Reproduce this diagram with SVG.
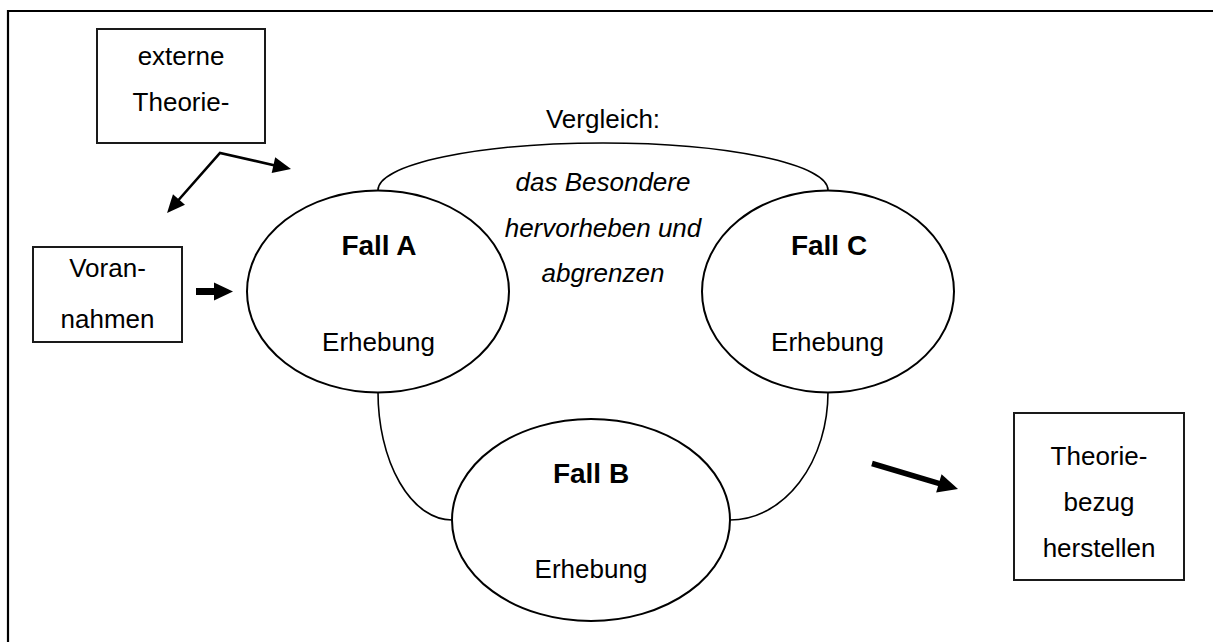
<svg xmlns="http://www.w3.org/2000/svg" width="1213" height="642" viewBox="0 0 1213 642">
<style>
  text { font-family: "Liberation Sans", Arial, sans-serif; font-size: 26px; fill: #000; text-anchor: middle; }
  .b { font-weight: bold; font-size: 28px; }
  .i { font-style: italic; }
  .box { fill: #fff; stroke: #1a1a1a; stroke-width: 2; }
  .ell { fill: #fff; stroke: #000; stroke-width: 2; }
  .link { fill: none; stroke: #000; stroke-width: 1.6; }
  .thin { fill: none; stroke: #000; stroke-width: 2.6; }
  marker { overflow: visible; }
</style>
<defs>
  <marker id="ahThin" markerUnits="userSpaceOnUse" markerWidth="18" markerHeight="16" refX="6" refY="8" orient="auto-start-reverse">
    <path d="M0,0 L18,8 L0,16 z" fill="#000"/>
  </marker>
  <marker id="ahThick" markerUnits="userSpaceOnUse" markerWidth="19" markerHeight="18" refX="6" refY="9" orient="auto">
    <path d="M0,0 L19,9 L0,18 z" fill="#000"/>
  </marker>
  <marker id="ahThick2" markerUnits="userSpaceOnUse" markerWidth="20" markerHeight="19" refX="6" refY="9.5" orient="auto">
    <path d="M0,0 L20,9.5 L0,19 z" fill="#000"/>
  </marker>
</defs>
<rect width="1213" height="642" fill="#fff"/>
<path d="M8,642 L8,11 L1213,11" fill="none" stroke="#000" stroke-width="2.2"/>

<g id="connectors">
  <path class="link" d="M378,190 A225,47 0 0 1 828,190"/>
  <path class="link" d="M378,392 A74,128 0 0 0 452,520"/>
  <path class="link" d="M828,392 A98,128 0 0 1 730,520"/>
  <path class="thin" d="M175,204 L220,153 L279.3,166.4" marker-start="url(#ahThin)" marker-end="url(#ahThin)"/>
  <path d="M196,291.5 L220,291.5" stroke="#000" stroke-width="7" fill="none" marker-end="url(#ahThick)"/>
  <path d="M872,463.5 L944.6,485.1" stroke="#000" stroke-width="5.5" fill="none" marker-end="url(#ahThick2)"/>
</g>

<g id="externe">
  <rect class="box" x="97" y="29" width="168" height="114"/>
  <text x="181" y="65">externe</text>
  <text x="181" y="111">Theorie-</text>
</g>

<g id="voran">
  <rect class="box" x="33" y="247" width="149" height="95"/>
  <text x="107.5" y="277">Voran-</text>
  <text x="107.5" y="328">nahmen</text>
</g>

<g id="fallA">
  <ellipse class="ell" cx="378" cy="291.5" rx="131" ry="101"/>
  <text class="b" x="379" y="255">Fall A</text>
  <text x="378.5" y="351">Erhebung</text>
</g>

<g id="fallC">
  <ellipse class="ell" cx="828" cy="291.5" rx="126" ry="101"/>
  <text class="b" x="829" y="255">Fall C</text>
  <text x="827.5" y="351">Erhebung</text>
</g>

<g id="fallB">
  <ellipse class="ell" cx="591" cy="520" rx="139" ry="101"/>
  <text class="b" x="591" y="483">Fall B</text>
  <text x="591" y="578">Erhebung</text>
</g>

<g id="vergleich">
  <text x="603" y="128">Vergleich:</text>
  <text class="i" x="603" y="191">das Besondere</text>
  <text class="i" x="603" y="237">hervorheben und</text>
  <text class="i" x="603" y="282">abgrenzen</text>
</g>

<g id="theoriebezug">
  <rect class="box" x="1014" y="413" width="170" height="167"/>
  <text x="1099" y="465">Theorie-</text>
  <text x="1099" y="511">bezug</text>
  <text x="1099" y="557">herstellen</text>
</g>
</svg>
